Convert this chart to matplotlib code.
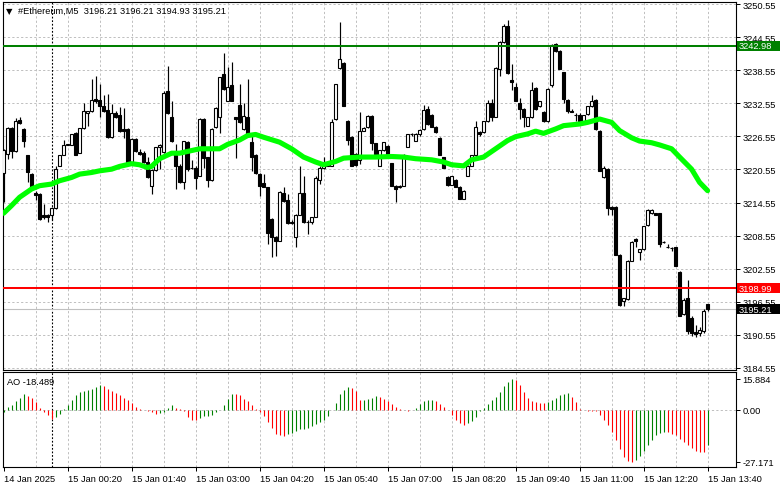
import matplotlib
matplotlib.use("Agg")
import matplotlib.pyplot as plt
import numpy as np
from matplotlib.transforms import blended_transform_factory
from matplotlib.patches import Rectangle

# ---------------- data ----------------
symbol = "#Ethereum,M5"
opens = [
    3219.9, 3223.4, 3228.0, 3223.9, 3229.5, 3227.9, 3223.1, 3219.7, 3216.2, 3216.1,
    3212.2, 3212.2, 3212.2, 3213.6, 3221.2, 3223.2, 3225.0, 3225.0, 3227.1, 3223.5,
    3228.0, 3230.8, 3231.1, 3233.3, 3233.2, 3232.1, 3231.4, 3226.4, 3230.8, 3230.5,
    3227.9, 3227.9, 3221.9, 3226.1, 3223.7, 3223.5, 3221.9, 3217.6, 3220.5, 3224.6,
    3223.7, 3234.7, 3230.1, 3223.5, 3221.2, 3218.2, 3225.6, 3220.9, 3220.8, 3219.4,
    3229.7, 3222.8, 3218.6, 3228.2, 3230.0, 3237.9, 3233.0, 3235.9, 3230.0, 3232.3,
    3227.9, 3230.1, 3225.5, 3223.2, 3219.7, 3218.1, 3217.3, 3211.6, 3208.2, 3207.6,
    3216.2, 3215.0, 3211.1, 3208.2, 3212.3, 3216.2, 3211.1, 3211.1, 3212.0, 3218.6,
    3220.8, 3221.2, 3221.2, 3229.7, 3239.0, 3239.8, 3229.4, 3226.4, 3223.4, 3222.2,
    3227.6, 3228.2, 3230.3, 3225.3, 3221.2, 3224.0, 3224.8, 3221.7, 3217.6, 3217.3,
    3217.6, 3224.7, 3226.9, 3225.8, 3226.9, 3227.9, 3231.5, 3230.4, 3228.3, 3226.3,
    3222.8, 3219.1, 3217.8, 3218.6, 3217.4, 3215.2, 3219.4, 3221.2, 3223.1, 3227.3,
    3227.3, 3229.3, 3232.6, 3230.1, 3238.8, 3243.6, 3246.5, 3236.8, 3235.5, 3232.7,
    3231.5, 3228.5, 3230.0, 3235.3, 3232.0, 3230.9, 3229.3, 3235.8, 3243.3, 3242.1,
    3238.2, 3233.2, 3231.1, 3230.4, 3230.5, 3229.4, 3230.6, 3232.0, 3233.2, 3227.6,
    3219.1, 3220.6, 3213.8, 3213.8, 3205.1, 3196.7, 3197.0, 3204.0, 3207.9, 3205.5,
    3206.1, 3210.4, 3212.6, 3212.6, 3212.6, 3207.4, 3206.5, 3206.3, 3206.4, 3202.0,
    3194.3, 3197.2, 3193.6, 3191.1, 3190.9, 3191.2, 3196.21]
highs = [
    3224.3, 3228.2, 3228.2, 3229.9, 3230.0, 3228.0, 3223.2, 3219.9, 3216.6, 3216.2,
    3214.3, 3212.5, 3213.7, 3221.2, 3223.2, 3225.9, 3225.1, 3226.9, 3227.3, 3228.0,
    3232.7, 3231.2, 3237.0, 3237.6, 3236.1, 3234.1, 3234.3, 3232.4, 3231.2, 3231.8,
    3231.7, 3228.0, 3226.2, 3226.2, 3224.3, 3223.9, 3222.9, 3220.6, 3224.7, 3225.2,
    3234.7, 3239.4, 3232.9, 3225.1, 3221.6, 3225.8, 3225.8, 3222.2, 3221.2, 3229.8,
    3229.8, 3222.9, 3228.0, 3231.8, 3237.4, 3241.6, 3239.1, 3240.0, 3230.1, 3236.1,
    3232.7, 3237.0, 3227.0, 3223.4, 3219.9, 3219.7, 3217.4, 3211.7, 3208.4, 3216.7,
    3217.3, 3216.1, 3211.3, 3212.5, 3221.1, 3219.4, 3211.3, 3212.0, 3219.4, 3221.1,
    3222.8, 3221.7, 3229.7, 3236.1, 3247.3, 3240.0, 3229.5, 3226.7, 3223.5, 3230.9,
    3228.2, 3230.4, 3230.4, 3225.4, 3224.1, 3225.6, 3225.0, 3221.8, 3217.8, 3217.7,
    3223.4, 3227.0, 3227.1, 3227.1, 3227.9, 3232.3, 3232.0, 3230.6, 3228.4, 3226.4,
    3222.9, 3219.3, 3219.4, 3218.8, 3217.6, 3216.8, 3221.4, 3223.2, 3229.3, 3227.5,
    3229.4, 3233.2, 3233.3, 3239.1, 3243.8, 3247.0, 3247.7, 3239.7, 3236.2, 3233.6,
    3231.7, 3230.1, 3236.4, 3235.5, 3233.0, 3231.1, 3235.3, 3243.3, 3243.5, 3242.2,
    3238.3, 3233.3, 3231.5, 3230.8, 3230.8, 3230.5, 3232.1, 3234.1, 3233.3, 3227.7,
    3221.1, 3220.8, 3213.9, 3213.9, 3205.2, 3197.3, 3204.1, 3207.6, 3208.1, 3206.2,
    3210.3, 3213.3, 3213.3, 3212.7, 3212.7, 3207.5, 3207.1, 3206.4, 3206.5, 3202.1,
    3197.3, 3200.4, 3194.0, 3192.4, 3191.9, 3195.2, 3196.21]
lows = [
    3214.6, 3222.5, 3222.6, 3223.7, 3228.8, 3224.7, 3218.2, 3217.0, 3215.0, 3211.4,
    3211.6, 3211.0, 3211.3, 3213.4, 3221.1, 3223.1, 3224.9, 3224.9, 3223.1, 3223.5,
    3227.9, 3228.5, 3230.9, 3232.7, 3230.1, 3230.9, 3226.2, 3226.3, 3229.9, 3227.3,
    3226.3, 3221.7, 3221.7, 3223.7, 3223.1, 3221.7, 3219.0, 3216.1, 3220.3, 3220.6,
    3223.5, 3230.6, 3225.5, 3217.0, 3218.0, 3217.0, 3220.3, 3220.6, 3217.0, 3219.3,
    3220.9, 3217.4, 3218.5, 3228.1, 3227.1, 3235.0, 3232.9, 3232.9, 3222.6, 3228.9,
    3227.8, 3226.9, 3220.3, 3219.7, 3215.8, 3217.3, 3207.0, 3204.6, 3204.9, 3207.5,
    3214.6, 3210.7, 3210.7, 3206.5, 3212.2, 3210.8, 3208.8, 3210.7, 3211.9, 3217.9,
    3220.7, 3221.1, 3221.1, 3229.6, 3238.8, 3232.0, 3224.9, 3221.1, 3221.2, 3221.6,
    3227.5, 3228.1, 3224.0, 3223.2, 3221.1, 3223.9, 3223.2, 3217.5, 3214.6, 3217.2,
    3217.5, 3224.6, 3226.7, 3225.7, 3226.7, 3227.8, 3228.7, 3228.2, 3227.2, 3223.1,
    3220.8, 3217.6, 3217.7, 3217.3, 3215.1, 3215.1, 3219.3, 3221.1, 3222.9, 3226.7,
    3227.2, 3229.2, 3229.4, 3230.0, 3237.6, 3243.5, 3237.9, 3234.9, 3232.9, 3229.7,
    3228.2, 3228.4, 3229.9, 3231.4, 3231.8, 3229.1, 3229.2, 3235.6, 3241.8, 3238.7,
    3232.6, 3230.8, 3230.9, 3229.3, 3229.3, 3229.3, 3230.5, 3231.8, 3227.8, 3220.2,
    3219.0, 3212.2, 3212.2, 3205.0, 3195.8, 3195.8, 3196.9, 3203.9, 3206.4, 3204.1,
    3206.0, 3210.2, 3212.5, 3212.2, 3206.4, 3207.2, 3206.3, 3205.7, 3203.0, 3193.9,
    3194.2, 3190.6, 3190.3, 3190.2, 3190.3, 3190.8, 3194.93]
closes = [
    3224.1, 3228.0, 3223.9, 3229.4, 3228.9, 3225.8, 3220.0, 3217.2, 3216.0, 3211.6,
    3211.9, 3212.0, 3213.6, 3220.6, 3223.1, 3225.0, 3225.1, 3226.9, 3223.1, 3228.0,
    3231.1, 3231.1, 3233.2, 3232.9, 3232.0, 3231.1, 3226.4, 3230.8, 3230.0, 3227.5,
    3227.5, 3221.9, 3226.1, 3223.9, 3223.4, 3221.9, 3219.1, 3220.5, 3224.6, 3225.0,
    3234.4, 3230.8, 3225.7, 3221.2, 3218.2, 3225.7, 3220.6, 3220.8, 3219.0, 3229.7,
    3222.6, 3218.6, 3227.9, 3231.7, 3237.3, 3235.2, 3235.6, 3233.0, 3229.7, 3229.1,
    3230.3, 3227.0, 3222.8, 3219.9, 3217.6, 3217.4, 3209.1, 3208.2, 3207.6, 3216.5,
    3214.8, 3210.8, 3210.8, 3212.3, 3216.2, 3211.0, 3211.0, 3211.9, 3219.0, 3220.8,
    3221.4, 3221.6, 3229.1, 3236.0, 3240.6, 3232.1, 3225.9, 3221.2, 3221.4, 3227.6,
    3228.0, 3230.3, 3225.3, 3223.4, 3224.0, 3225.5, 3223.4, 3217.6, 3217.0, 3217.6,
    3223.2, 3226.9, 3227.0, 3226.9, 3227.7, 3231.4, 3228.8, 3228.3, 3227.3, 3223.2,
    3220.9, 3217.8, 3219.3, 3217.4, 3215.2, 3216.7, 3221.2, 3223.1, 3228.2, 3227.0,
    3229.3, 3232.6, 3230.0, 3239.0, 3243.6, 3246.5, 3238.0, 3236.4, 3233.0, 3231.5,
    3230.0, 3230.0, 3234.9, 3231.5, 3232.9, 3229.3, 3235.2, 3243.2, 3242.0, 3238.8,
    3233.3, 3231.2, 3231.0, 3230.5, 3229.4, 3230.4, 3232.0, 3233.0, 3227.9, 3220.3,
    3220.9, 3213.6, 3213.4, 3205.1, 3196.0, 3197.2, 3204.0, 3207.4, 3207.6, 3206.1,
    3210.2, 3213.2, 3213.1, 3212.3, 3207.0, 3207.3, 3206.4, 3206.3, 3203.1, 3194.0,
    3196.9, 3191.2, 3190.9, 3190.7, 3191.4, 3194.9, 3195.21]

# moving average (read at selected bars)
ma_bars = [0, 2, 4, 7, 9, 12, 14, 17, 19, 22, 24, 27, 29, 32, 34, 36, 37, 39, 42, 44,
           49, 54, 56, 59, 61, 63, 65, 69, 72, 75, 78, 80, 83, 85, 89, 93, 97, 100, 103, 107,
           110, 112, 115, 117, 120, 123, 126, 128, 131, 133, 135, 138, 140, 144, 146, 149, 152, 154, 157, 159,
           162, 164, 167, 169, 172, 174, 176]
ma_values = [3212.6, 3214.0, 3215.5, 3217.0, 3217.6, 3217.9, 3218.5, 3219.1, 3219.7, 3220.0,
             3220.3, 3220.6, 3221.1, 3221.6, 3221.4, 3220.9, 3221.1, 3222.5, 3223.5, 3223.5,
             3224.3, 3224.3, 3225.1, 3225.9, 3226.7, 3226.9, 3226.4, 3225.5, 3224.3, 3222.8,
             3221.9, 3221.4, 3222.0, 3222.6, 3222.8, 3222.8, 3222.9, 3222.8, 3222.5, 3222.3,
             3221.9, 3221.4, 3221.2, 3222.3, 3222.8, 3224.3, 3225.8, 3226.5, 3227.0, 3227.5,
             3227.1, 3227.9, 3228.5, 3228.8, 3229.1, 3229.7, 3229.1, 3227.6, 3226.3, 3225.7,
             3225.4, 3225.0, 3224.3, 3222.8, 3220.6, 3218.2, 3216.7]

# Awesome Oscillator
ao_values = [
    -1.5, 1.2, 2.3, 4.3, 6.2, 8.3, 6.9, 6.1, 4.0, 0.7,
    -1.2, -2.9, -4.7, -3.8, -2.1, 0.2, 2.6, 5.2, 7.5, 8.9,
    9.7, 10.1, 10.6, 11.8, 12.7, 12.1, 10.9, 9.7, 8.7, 7.5,
    6.2, 4.9, 3.5, 1.4, 0.2, -0.2, -0.7, -1.4, -2.1, -1.7,
    -1.2, 0.9, 2.1, 0.9, 0.2, -0.7, -3.8, -5.5, -5.6, -4.2,
    -3.5, -3.4, -2.9, -1.2, -0.2, 2.3, 5.7, 8.3, 8.2, 7.5,
    5.7, 4.5, 2.6, 0.5, -1.2, -3.5, -6.4, -9.4, -12.8, -13.4,
    -13.7, -12.8, -12.1, -11.1, -10.4, -9.9, -9.4, -8.7, -7.3, -6.4,
    -5.6, -3.5, -0.3, 3.5, 8.0, 10.4, 11.8, 11.4, 9.7, 5.0,
    5.2, 5.6, 6.2, 6.9, 6.6, 5.7, 4.5, 2.8, 1.4, 0.2,
    -0.4, -0.6, -0.3, 1.0, 2.8, 4.5, 4.9, 5.0, 4.5, 3.1,
    1.4, -0.3, -2.9, -5.6, -6.9, -8.2, -6.9, -5.9, -3.8, -0.7,
    1.0, 3.1, 4.9, 6.6, 9.2, 12.1, 14.4, 15.884, 15.5, 12.8,
    9.2, 6.2, 4.5, 4.0, 3.6, 3.4, 4.0, 4.9, 6.2, 7.5,
    8.3, 8.7, 6.6, 4.0, 0.5, -0.5, -0.6, -0.7, -1.0, -2.9,
    -5.6, -8.2, -11.6, -16.0, -20.3, -24.6, -27.0, -27.171, -26.2, -24.3,
    -21.5, -18.7, -15.8, -13.4, -12.1, -11.6, -11.8, -12.5, -13.4, -15.6,
    -16.8, -18.7, -20.0, -21.5, -22.0, -22.3, -18.489]

price_ticks = [3184.55 + 6 * k for k in range(12)]
ao_ticks = [-27.171, 0.0, 15.884]
time_labels = ["14 Jan 2025", "15 Jan 00:20", "15 Jan 01:40", "15 Jan 03:00",
               "15 Jan 04:20", "15 Jan 05:40", "15 Jan 07:00", "15 Jan 08:20",
               "15 Jan 09:40", "15 Jan 11:00", "15 Jan 12:20", "15 Jan 13:40"]
label_every = 16          # bars between time labels
grid_every = 8            # bars between vertical grid lines
day_start_bar = 12        # 15 Jan 00:00
level_green = 3242.98
level_red = 3198.99
bid_price = closes[-1]

# ---------------- figure ----------------
plt.rcParams['font.family'] = ['Liberation Sans', 'DejaVu Sans']
FS = 6.7
W, H = 781, 489
fig = plt.figure(figsize=(W / 100, H / 100), dpi=100, facecolor='white')


def rect(l, t, r, b):
    return [l / W, 1 - b / H, (r - l) / W, (b - t) / H]


ax = fig.add_axes(rect(3, 2.7, 735.5, 370.7))
ax2 = fig.add_axes(rect(3, 372.7, 735.5, 467.7), sharex=ax)

o = np.array(opens); h = np.array(highs); l = np.array(lows); c = np.array(closes)
n = len(c)
idx = np.arange(n)
h = np.maximum(h, np.maximum(o, c))
l = np.minimum(l, np.minimum(o, c))
up = c >= o
bot = np.minimum(o, c)
hgt = np.maximum(np.abs(c - o), 0.06)

grid_kw = dict(color='#c0c0c0', lw=0.72, ls=(0, (2.2, 2.2)), zorder=0)

# main panel
for p in price_ticks:
    ax.axhline(p, **grid_kw)
for g in range(grid_every, n + 8, grid_every):
    ax.axvline(g, **grid_kw)
    ax2.axvline(g, **grid_kw)
ax.axvline(day_start_bar, color='black', lw=0.8, ls=(0, (1.6, 1.6)), zorder=1)
ax2.axvline(day_start_bar, color='black', lw=0.8, ls=(0, (1.6, 1.6)), zorder=1)

ax.axhline(bid_price, color='#c0c0c0', lw=0.8, zorder=1.5)
ax.vlines(idx, l, h, color='black', lw=0.85, zorder=2)
ax.bar(idx[up], hgt[up], bottom=bot[up], width=0.58, facecolor='white',
       edgecolor='black', lw=0.8, zorder=3)
ax.bar(idx[~up], hgt[~up], bottom=bot[~up], width=0.58, facecolor='black',
       edgecolor='black', lw=0.8, zorder=3)

ax.plot(ma_bars, ma_values, color='#00ff00', lw=3.7, solid_capstyle='round',
        solid_joinstyle='round', zorder=5)

ax.axhline(level_green, color='#008000', lw=1.45, zorder=6)
ax.axhline(level_red, color='#ff0000', lw=1.45, zorder=6)

ax.set_xlim(-0.15, 182.975)
ax.set_ylim(3184.2, 3251.0)
ax.yaxis.tick_right()
ax.set_yticks(price_ticks)
ax.set_yticklabels([f"{p:.2f}" for p in price_ticks])
ax.tick_params(axis='y', length=3, width=0.72, pad=2, labelsize=FS, colors='black')
ax.tick_params(axis='x', bottom=False, labelbottom=False)

# colored price boxes
bt = blended_transform_factory(ax.transAxes, ax.transData)
box_w = 43.5 / 732.5
box_h = 10 / 5.508
for price, col in [(level_green, '#008000'), (level_red, '#ff0000'), (bid_price, '#000000')]:
    ax.add_patch(Rectangle((1.0 + 1 / 732.5, price - box_h / 2), box_w, box_h,
                           transform=bt, facecolor=col, edgecolor='none',
                           clip_on=False, zorder=20))
    ax.text(1.0 + 3.5 / 732.5, price, f"{price:.2f}", transform=bt, color='white',
            fontsize=FS, va='center', ha='left', zorder=21, clip_on=False)

# AO panel
ao = np.array(ao_values)
cols = ['#008000'] + ['#008000' if ao[i] > ao[i - 1] else '#ff0000' for i in range(1, n)]
ax2.axhline(0, **grid_kw)
ax2.vlines(idx, 0, ao, colors=cols, lw=0.8, zorder=3)
ax2.set_ylim(-29.77, 19.68)
ax2.yaxis.tick_right()
ax2.set_yticks(ao_ticks)
ax2.set_yticklabels(["-27.171", "0.00", "15.884"])
ax2.tick_params(axis='y', length=3, width=0.72, pad=2, labelsize=FS, colors='black')
ax2.set_xticks(list(range(0, n, label_every)))
ax2.set_xticklabels(time_labels)
ax2.tick_params(axis='x', length=3, width=0.72, pad=2.5, labelsize=FS, colors='black')
for lab in ax2.get_xticklabels():
    lab.set_horizontalalignment('left')

for a in (ax, ax2):
    a.set_facecolor('white')
    for s in a.spines.values():
        s.set_linewidth(0.8)
        s.set_color('black')

# header texts
fig.text(5.5 / W, 1 - 11.5 / H, "\u25BC", fontsize=6, family='DejaVu Sans',
         va='center', ha='left', color='black')
fig.text(18 / W, 1 - 11 / H,
         f"{symbol}  {opens[-1]:.2f} {highs[-1]:.2f} {lows[-1]:.2f} {closes[-1]:.2f}",
         fontsize=FS, va='center', ha='left', color='black')
fig.text(7.5 / W, 1 - 383 / H, f"AO {ao_values[-1]:.3f}", fontsize=FS,
         va='center', ha='left', color='black')

fig.savefig("out.png", dpi=100, facecolor='white')
